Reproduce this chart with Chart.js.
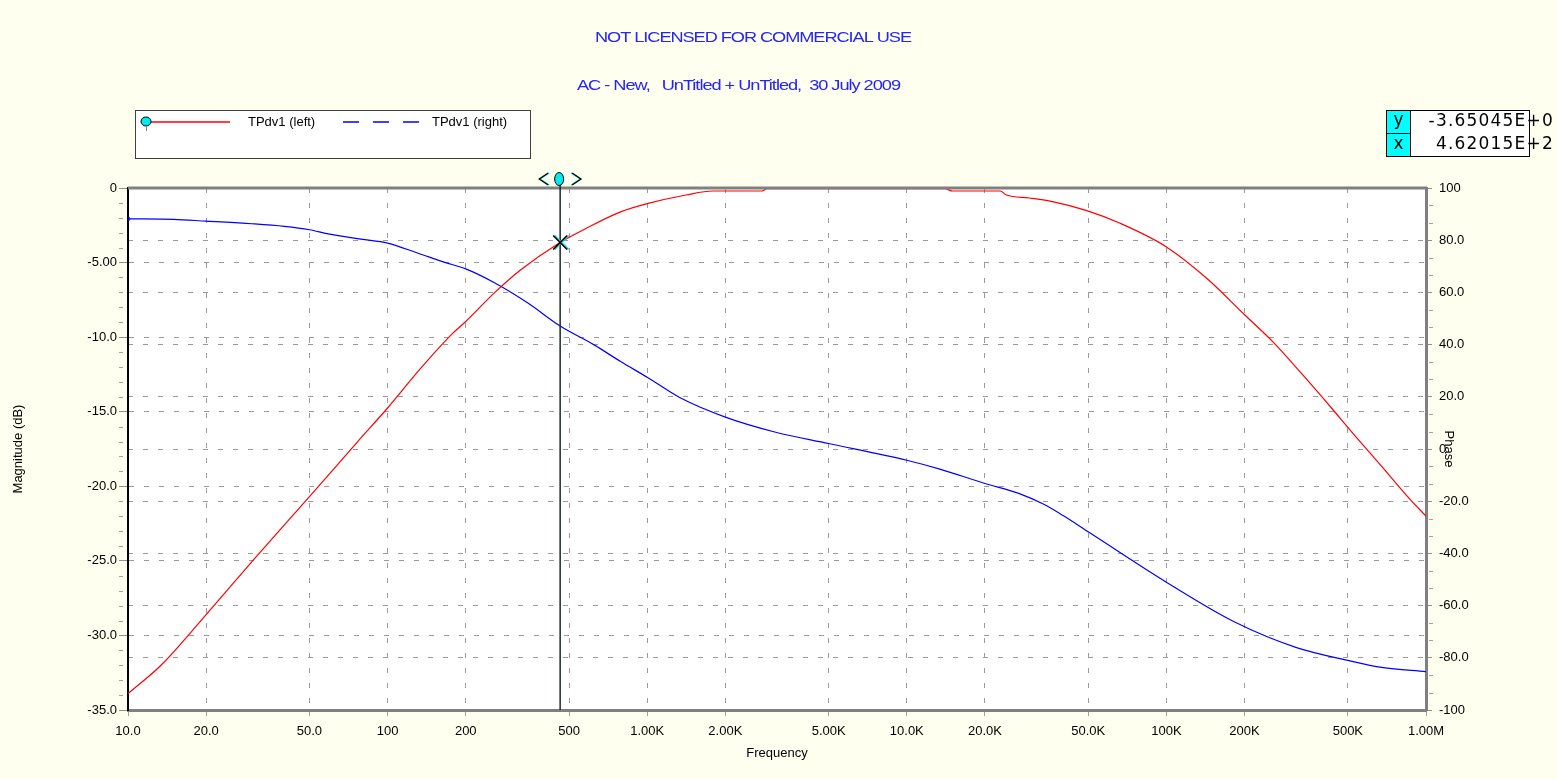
<!DOCTYPE html>
<html>
<head>
<meta charset="utf-8">
<script src="https://cdn.jsdelivr.net/npm/chart.js@4.4.0/dist/chart.umd.min.js"></script>
<style>
  html, body { margin: 0; padding: 0; background: #fffff0; }
  #wrap { width: 1557px; height: 779px; }
</style>
</head>
<body>
<div id="wrap"><canvas id="bode"></canvas></div>
<script>
// axis ticks
const freqTicks = [10, 20, 50, 100, 200, 500, 1e3, 2e3, 5e3, 1e4, 2e4, 5e4, 1e5, 2e5, 5e5, 1e6];
const freqLabels = ["10.0", "20.0", "50.0", "100", "200", "500", "1.00K", "2.00K", "5.00K", "10.0K", "20.0K", "50.0K", "100K", "200K", "500K", "1.00M"];
const magTicks = [0, -5, -10, -15, -20, -25, -30, -35];
const magLabels = ["0", "-5.00", "-10.0", "-15.0", "-20.0", "-25.0", "-30.0", "-35.0"];
const phaseTicks = [100, 80, 60, 40, 20, 0, -20, -40, -60, -80, -100];
const phaseLabels = ["100", "80.0", "60.0", "40.0", "20.0", "0", "-20.0", "-40.0", "-60.0", "-80.0", "-100"];

// TPdv1 magnitude (dB), left axis
const magFreq = [10, 13.4, 20, 30.9, 50, 76.7, 100, 134, 178, 200, 259, 325, 452, 590, 790, 1000, 1410, 1790, 2770, 2900, 5000, 10000, 14000, 15000, 22900, 24200, 29600, 36000, 49000, 66000, 100000, 144000, 200000, 260000, 330000, 430000, 520000, 670000, 860000, 1000000];
const magDb = [-33.9, -32.0, -28.6, -24.8, -20.7, -17.0, -14.75, -12.1, -9.75, -8.95, -7.0, -5.5, -3.75, -2.65, -1.6, -1.05, -0.47, -0.2, -0.2, -0.05, -0.05, -0.05, -0.05, -0.2, -0.2, -0.47, -0.67, -0.9, -1.5, -2.35, -3.95, -6.1, -8.5, -10.4, -12.4, -14.7, -16.4, -18.6, -20.8, -22.0];

// TPdv1 phase (deg), right axis
const phFreq = [10, 15, 20, 30, 40, 50, 59, 79, 100, 131, 166, 200, 259, 346, 462, 627, 790, 1000, 1340, 2000, 3100, 5000, 10000, 13400, 20000, 27000, 33700, 40000, 50500, 101000, 185000, 315000, 505000, 675000, 1000000];
const phDeg = [88.2, 88.0, 87.3, 86.3, 85.3, 84.0, 82.4, 80.4, 78.9, 75.0, 71.5, 69.0, 63.6, 56.0, 47.1, 39.8, 33.5, 27.5, 19.6, 12.2, 6.5, 2.1, -4.3, -7.7, -13.2, -17.0, -21.2, -25.5, -32.0, -51.3, -66.5, -76.0, -81.1, -83.7, -85.3];

// cursor readout
const cursorX = 462.015;
const cursorY = -3.65045;
const cursorText = ["-3.65045E+0", "4.62015E+2"];

const magMinor = [-1, -2, -3, -4, -6, -7, -8, -9, -11, -12, -13, -14, -16, -17, -18, -19, -21, -22, -23, -24, -26, -27, -28, -29, -31, -32, -33, -34];
const phaseMinor = [93.3, 86.7, 73.3, 66.7, 53.3, 46.7, 33.3, 26.7, 13.3, 6.7, -6.7, -13.3, -26.7, -33.3, -46.7, -53.3, -66.7, -73.3, -86.7, -93.3];

const MAG_COLOR = "#ff0000";
const PHASE_COLOR = "#0000ff";
const GRID = "#9a9a9a";

Chart.defaults.font.family = "'Liberation Sans', Arial, sans-serif";
Chart.defaults.font.size = 13;
Chart.defaults.color = "#000";

// draw text squeezed/stretched to span a given width
function fitText(ctx, text, x0, x1, y) {
    const w = ctx.measureText(text).width;
    ctx.save();
    ctx.translate(x0, y);
    ctx.scale((x1 - x0) / w, 1);
    ctx.textAlign = "left";
    ctx.fillText(text, 0, 0);
    ctx.restore();
}

const decor = {
    id: "decor",
    beforeDraw(chart) {
        const {ctx, chartArea: a} = chart;
        ctx.save();
        ctx.fillStyle = "#fff";
        ctx.fillRect(a.left, a.top, a.right - a.left, a.bottom - a.top);
        ctx.restore();
    },
    afterDatasetsDraw(chart) {
        const {ctx, chartArea: a, scales} = chart;
        ctx.save();
        // top frame line
        ctx.strokeStyle = "#808080";
        ctx.lineWidth = 3;
        ctx.beginPath();
        ctx.moveTo(a.left, a.top);
        ctx.lineTo(a.right + 1, a.top);
        ctx.stroke();

        // minor ticks
        ctx.strokeStyle = "#a0a0a0";
        ctx.lineWidth = 1;
        ctx.beginPath();
        magMinor.forEach(v => {
            const y = Math.round(scales.yMag.getPixelForValue(v)) + 0.5;
            ctx.moveTo(a.left - 9, y);
            ctx.lineTo(a.left - 5, y);
        });
        phaseMinor.forEach(v => {
            const y = Math.round(scales.yPhase.getPixelForValue(v)) + 0.5;
            ctx.moveTo(a.right + 3, y);
            ctx.lineTo(a.right + 7, y);
        });
        ctx.stroke();

        // cursor
        const cx = scales.x.getPixelForValue(cursorX);
        const cy = scales.yMag.getPixelForValue(cursorY);
        ctx.strokeStyle = "#1c2a2a";
        ctx.lineWidth = 1.5;
        ctx.beginPath();
        ctx.moveTo(cx, a.top - 14);
        ctx.lineTo(cx, a.bottom);
        ctx.stroke();

        // cursor handle  < O >
        ctx.beginPath();
        ctx.ellipse(cx - 1, a.top - 9, 4.5, 6.5, 0, 0, Math.PI * 2);
        ctx.fillStyle = "#00e8f0";
        ctx.fill();
        ctx.strokeStyle = "#000";
        ctx.lineWidth = 1;
        ctx.stroke();
        [-1, 1].forEach(d => {
            ["#00c8d0", "#000"].forEach((c, k) => {
                ctx.strokeStyle = c;
                ctx.lineWidth = 1.2;
                ctx.beginPath();
                const x0 = cx + d * (11 + k);
                ctx.moveTo(x0, a.top - 15);
                ctx.lineTo(x0 + d * 9, a.top - 9);
                ctx.lineTo(x0, a.top - 3);
                ctx.stroke();
            });
        });

        // X marker on magnitude curve
        ctx.lineWidth = 1.5;
        [["#00e0e8", 1.5], ["#000", 0]].forEach(([c, o]) => {
            ctx.strokeStyle = c;
            ctx.beginPath();
            ctx.moveTo(cx - 7 + o, cy - 7);
            ctx.lineTo(cx + 7 + o, cy + 7);
            ctx.moveTo(cx + 7 + o, cy - 7);
            ctx.lineTo(cx - 7 + o, cy + 7);
            ctx.stroke();
        });
        ctx.restore();
    },
    afterDraw(chart) {
        const {ctx} = chart;
        const ds = chart.data.datasets;
        ctx.save();

        // headings
        ctx.fillStyle = "#2424ff";
        ctx.font = "14px 'Liberation Sans', Arial, sans-serif";
        ctx.textBaseline = "middle";
        ctx.letterSpacing = "-0.8px";
        fitText(ctx, "NOT LICENSED FOR COMMERCIAL USE", 595, 911, 38);
        fitText(ctx, "AC - New,   UnTitled + UnTitled,  30 July 2009", 577, 900, 86);
        ctx.letterSpacing = "0px";

        // legend box
        ctx.fillStyle = "#fff";
        ctx.fillRect(135.5, 110.5, 395, 48);
        ctx.strokeStyle = "#404040";
        ctx.lineWidth = 1;
        ctx.strokeRect(135.5, 110.5, 395, 48);

        ctx.lineWidth = 1.6;
        ctx.strokeStyle = MAG_COLOR;
        ctx.beginPath();
        ctx.moveTo(150, 122);
        ctx.lineTo(230, 122);
        ctx.stroke();
        ctx.lineWidth = 1;
        ctx.beginPath();
        ctx.ellipse(146, 121.5, 5, 4.5, 0, 0, Math.PI * 2);
        ctx.fillStyle = "#00e8f0";
        ctx.fill();
        ctx.strokeStyle = "#000";
        ctx.stroke();
        ctx.strokeStyle = "#808080";
        ctx.beginPath();
        ctx.moveTo(146.5, 127);
        ctx.lineTo(146.5, 131);
        ctx.stroke();

        ctx.lineWidth = 1.6;
        ctx.strokeStyle = PHASE_COLOR;
        ctx.setLineDash([16, 14]);
        ctx.beginPath();
        ctx.moveTo(343, 122);
        ctx.lineTo(426, 122);
        ctx.stroke();
        ctx.setLineDash([]);
        ctx.lineWidth = 1;

        ctx.fillStyle = "#000";
        ctx.font = "13px 'Liberation Sans', Arial, sans-serif";
        ctx.textAlign = "left";
        ctx.fillText(ds[0].label, 248, 122);
        ctx.fillText(ds[1].label, 432, 122);

        // cursor readout
        ctx.fillStyle = "#00ffff";
        ctx.fillRect(1386.5, 110.5, 24, 23);
        ctx.fillRect(1386.5, 133.5, 24, 23);
        ctx.strokeStyle = "#000";
        ctx.strokeRect(1386.5, 110.5, 24, 23);
        ctx.strokeRect(1386.5, 133.5, 24, 23);
        ctx.fillStyle = "#fff";
        ctx.fillRect(1410.5, 110.5, 119, 46);
        ctx.strokeRect(1410.5, 110.5, 119, 46);
        ctx.fillStyle = "#000";
        ctx.font = "17px 'DejaVu Sans', sans-serif";
        ctx.textAlign = "center";
        ctx.fillText("y", 1398.5, 121);
        ctx.fillText("x", 1398.5, 145);
        ctx.textAlign = "right";
        ctx.letterSpacing = "1.2px";
        ctx.fillText(cursorText[0], 1554, 122);
        ctx.fillText(cursorText[1], 1554, 145);
        ctx.letterSpacing = "0px";
        ctx.restore();
    }
};

new Chart(document.getElementById("bode"), {
    type: "line",
    data: {
        datasets: [{
            label: "TPdv1 (left)",
            data: magFreq.map((f, i) => ({x: f, y: magDb[i]})),
            yAxisID: "yMag",
            borderColor: MAG_COLOR,
            borderWidth: 1.2,
            pointRadius: 0,
            cubicInterpolationMode: "monotone",
        }, {
            label: "TPdv1 (right)",
            data: phFreq.map((f, i) => ({x: f, y: phDeg[i]})),
            yAxisID: "yPhase",
            borderColor: PHASE_COLOR,
            borderWidth: 1.2,
            pointStyle: "rect",
            pointRadius: c => c.dataIndex === 0 ? 2.5 : 0,
            pointBackgroundColor: PHASE_COLOR,
            pointBorderWidth: 0,
            cubicInterpolationMode: "monotone",
        }]
    },
    options: {
        responsive: true,
        maintainAspectRatio: false,
        animation: false,
        events: [],
        layout: { padding: { top: 188, left: 0, right: 0, bottom: 0 } },
        plugins: { legend: { display: false }, tooltip: { enabled: false } },
        scales: {
            x: {
                type: "logarithmic",
                min: 10,
                max: 1e6,
                afterBuildTicks: s => { s.ticks = freqTicks.map(v => ({value: v})); },
                afterFit: s => { s.height = 69; },
                ticks: { callback: v => freqLabels[freqTicks.indexOf(v)], maxRotation: 0, autoSkip: false, padding: 8 },
                grid: { color: GRID, tickColor: "#a0a0a0", tickLength: 6 },
                border: { color: "#808080", width: 3, dash: [5, 10] },
                title: { display: true, text: "Frequency", padding: { bottom: 18 } }
            },
            yMag: {
                type: "linear",
                position: "left",
                min: -35,
                max: 0,
                afterBuildTicks: s => { s.ticks = magTicks.map(v => ({value: v})); },
                afterFit: s => { s.width = 128; },
                ticks: { callback: v => magLabels[magTicks.indexOf(v)], padding: 2 },
                grid: { color: GRID, tickColor: "#909090", tickLength: 9 },
                border: { color: "#000", width: 2, dash: [5, 10] },
                title: { display: true, text: "Magnitude (dB)", padding: { top: 11 } }
            },
            yPhase: {
                type: "linear",
                position: "right",
                min: -100,
                max: 100,
                afterBuildTicks: s => { s.ticks = phaseTicks.map(v => ({value: v})); },
                afterFit: s => { s.width = 131; },
                ticks: { callback: v => phaseLabels[phaseTicks.indexOf(v)], padding: 7 },
                grid: { color: GRID, tickColor: "#909090", tickLength: 6 },
                border: { color: "#808080", width: 3, dash: [5, 10] },
                title: { display: true, text: "Phase", padding: { top: 101 } }
            }
        }
    },
    plugins: [decor]
});
</script>
</body>
</html>
